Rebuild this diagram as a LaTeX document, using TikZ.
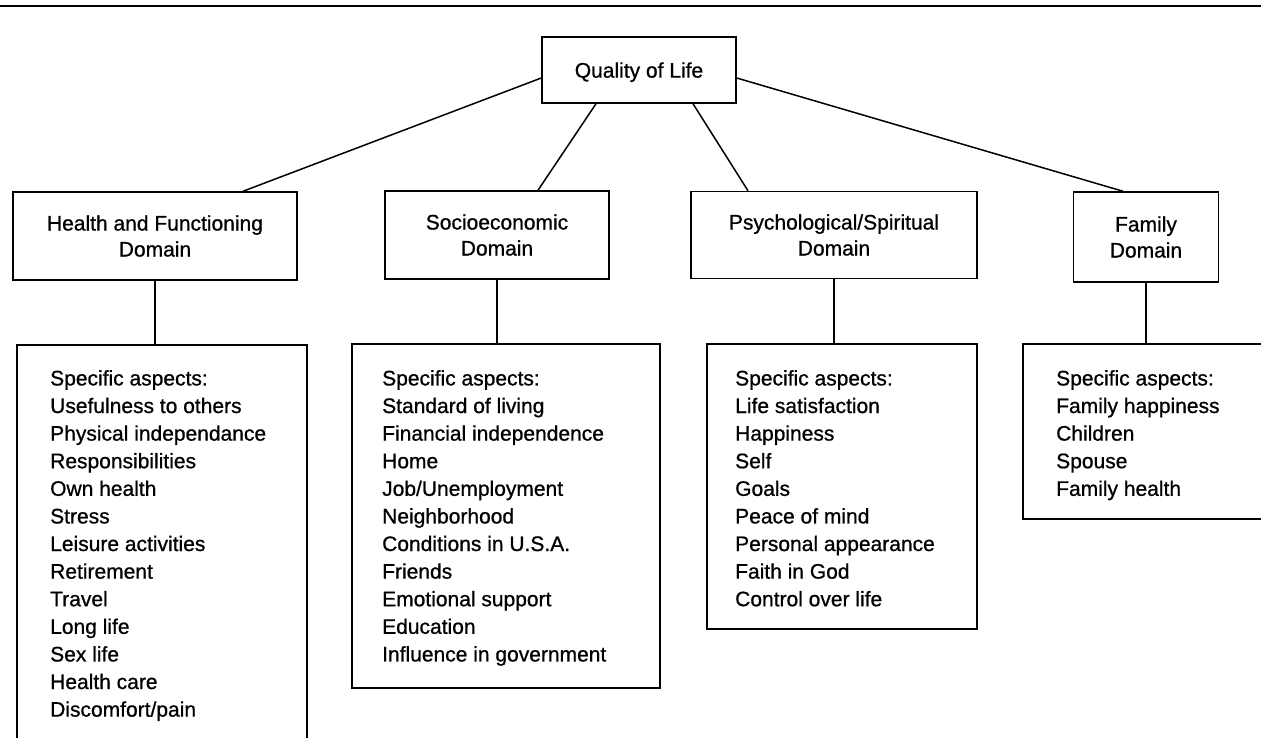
\documentclass[tikz,border=0pt]{standalone}
\usepackage{fontspec}
\setmainfont{Liberation Sans}[FakeBold=0.8]
\usetikzlibrary{positioning}
\usetikzlibrary{calc}

\begin{document}
\begin{tikzpicture}[x=1pt,y=-1pt,
    domainbox/.style={draw, line width=1.5pt, inner sep=0pt, align=center,
                   font=\fontsize{21}{26}\selectfont},
    aspectbox/.style={draw, line width=1.5pt, inner sep=0pt, anchor=north west},
    aspects/.style={inner sep=0pt, align=left, font=\fontsize{21}{27.6}\selectfont},
    link/.style={line width=1.5pt}]
        \useasboundingbox (0,0) rectangle (1261,737);
        \clip (0,0) rectangle (1261,737);
        \draw [link, line width=2pt] (0,6) -- (1261,6);

        \node [domainbox, minimum width=194pt, minimum height=66pt, text depth=-4pt] (qol) at (639,70) {Quality of Life};

        \node [domainbox, minimum width=284pt, minimum height=88pt] (health) at (155,236) {Health and Functioning\\Domain};
        \node [domainbox, minimum width=224pt, minimum height=88pt] (socio) at (497,235) {Socioeconomic\\Domain};
        \node [domainbox, minimum width=286pt, minimum height=87pt] (psych) at (834,235) {Psychological/Spiritual\\Domain};
        \node [domainbox, minimum width=145pt, minimum height=90pt] (family) at (1146,237) {Family\\Domain};

        \node [aspectbox, minimum width=290pt, minimum height=420pt] (healthlist) at (16,344) {};
        \node [aspectbox, minimum width=308pt, minimum height=344pt] (sociolist) at (351,343) {};
        \node [aspectbox, minimum width=270pt, minimum height=285pt] (psychlist) at (706,343) {};
        \node [aspectbox, minimum width=260pt, minimum height=175pt] (familylist) at (1022,343) {};

        \node [aspects, below right=26pt and 34pt of healthlist.north west] (healthitems) {Specific aspects:\\Usefulness to others\\Physical independance\\Responsibilities\\Own health\\Stress\\Leisure activities\\Retirement\\Travel\\Long life\\Sex life\\Health care\\Discomfort/pain};
        \node [aspects, below right=27pt and 31pt of sociolist.north west] (socioitems) {Specific aspects:\\Standard of living\\Financial independence\\Home\\Job/Unemployment\\Neighborhood\\Conditions in U.S.A.\\Friends\\Emotional support\\Education\\Influence in government};
        \node [aspects, below right=27pt and 29pt of psychlist.north west] (psychitems) {Specific aspects:\\Life satisfaction\\Happiness\\Self\\Goals\\Peace of mind\\Personal appearance\\Faith in God\\Control over life};
        \node [aspects, below right=27pt and 34pt of familylist.north west] (familyitems) {Specific aspects:\\Family happiness\\Children\\Spouse\\Family health};

        \draw [link] ([yshift=-8pt]qol.west) -- ([xshift=88pt]health.north);
        \draw [link] ([xshift=-43pt]qol.south) -- ([xshift=41pt]socio.north);
        \draw [link] ([xshift=54pt]qol.south) -- ([xshift=-86pt]psych.north);
        \draw [link] ([yshift=-8pt]qol.east) -- ([xshift=-23pt]family.north);

        \draw [link] (health.south) -- (health.south |- healthlist.north);
        \draw [link] (socio.south) -- (socio.south |- sociolist.north);
        \draw [link] (psych.south) -- (psych.south |- psychlist.north);
        \draw [link] (family.south) -- (family.south |- familylist.north);
    \end{tikzpicture}
\end{document}
